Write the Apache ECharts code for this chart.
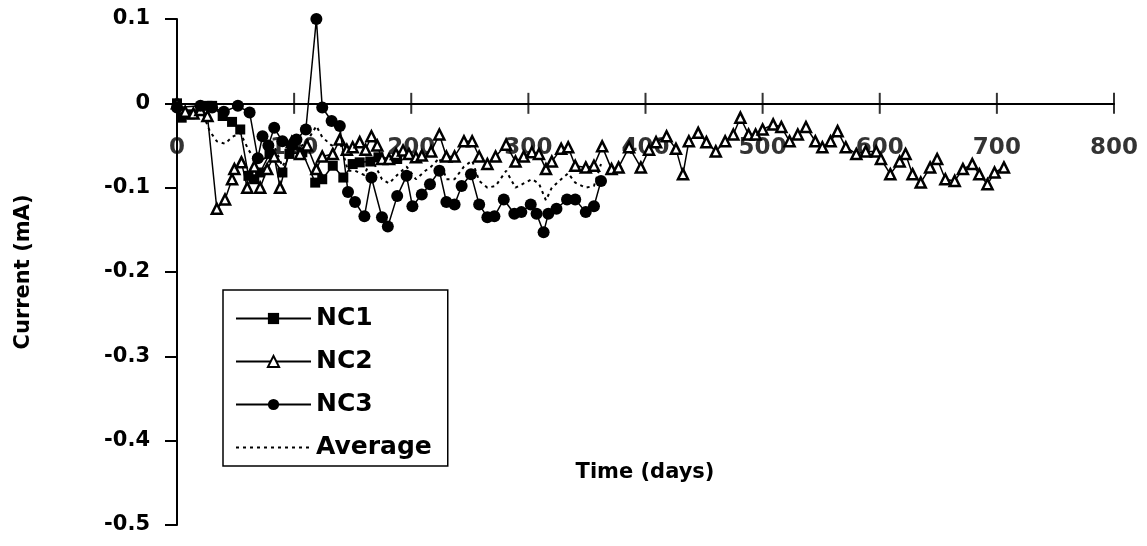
<!DOCTYPE html>
<html><head><meta charset="utf-8">
<script src="https://cdn.jsdelivr.net/npm/echarts@6/dist/echarts.min.js"></script>
<style>html,body{margin:0;padding:0;background:#fff}#c{width:1147px;height:546px}</style>
</head><body><div id="c"></div>
<script>
const xTicks = [0,100,200,300,400,500,600,700,800];
const yTicks = [0.1,0,-0.1,-0.2,-0.3,-0.4,-0.5];

const nc1Days = [0,4,11,26,30,39,47,54,61,66,71,79,90,96,107,118,124,133,142,150,156,165,172,188];
const nc1Vals = [0,-0.017,-0.013,-0.003,-0.003,-0.015,-0.022,-0.031,-0.086,-0.09,-0.082,-0.06,-0.082,-0.06,-0.058,-0.094,-0.09,-0.074,-0.088,-0.072,-0.07,-0.069,-0.064,-0.066];

const nc2Days = [0,7,14,20,26,34,41,47,49,55,60,66,71,77,83,88,98,105,111,119,124,133,139,145,150,156,161,166,171,175,181,187,193,198,204,209,217,224,230,237,245,252,258,265,272,281,289,296,303,309,315,320,328,334,340,349,356,363,371,377,386,396,403,409,418,426,432,437,445,452,460,468,475,481,488,494,500,509,516,523,530,537,545,551,558,564,571,580,588,597,601,609,617,622,628,635,643,649,656,664,671,679,685,692,698,706];
const nc2Vals = [0,-0.01,-0.012,-0.008,-0.015,-0.125,-0.114,-0.09,-0.078,-0.07,-0.1,-0.075,-0.1,-0.078,-0.063,-0.1,-0.046,-0.06,-0.05,-0.078,-0.063,-0.06,-0.043,-0.055,-0.052,-0.046,-0.055,-0.039,-0.05,-0.066,-0.066,-0.06,-0.056,-0.06,-0.064,-0.062,-0.057,-0.037,-0.063,-0.063,-0.045,-0.045,-0.063,-0.072,-0.063,-0.049,-0.069,-0.063,-0.058,-0.06,-0.078,-0.069,-0.054,-0.052,-0.074,-0.076,-0.074,-0.051,-0.078,-0.076,-0.052,-0.076,-0.055,-0.046,-0.039,-0.054,-0.084,-0.045,-0.035,-0.046,-0.057,-0.045,-0.037,-0.017,-0.037,-0.037,-0.031,-0.025,-0.028,-0.045,-0.037,-0.028,-0.045,-0.052,-0.045,-0.033,-0.052,-0.06,-0.057,-0.057,-0.066,-0.084,-0.069,-0.06,-0.084,-0.094,-0.076,-0.066,-0.09,-0.092,-0.078,-0.072,-0.084,-0.096,-0.082,-0.076];

const nc3Days = [0,20,30,40,52,62,69,73,78,83,90,98,102,110,119,124,132,139,146,152,160,166,175,180,188,196,201,209,216,224,230,237,243,251,258,265,271,279,288,294,302,307,313,317,324,333,340,349,356,362];
const nc3Vals = [-0.005,-0.003,-0.005,-0.01,-0.003,-0.011,-0.065,-0.039,-0.05,-0.029,-0.045,-0.05,-0.043,-0.031,0.1,-0.005,-0.021,-0.027,-0.105,-0.117,-0.134,-0.088,-0.135,-0.146,-0.11,-0.086,-0.122,-0.108,-0.096,-0.08,-0.117,-0.12,-0.098,-0.084,-0.12,-0.135,-0.134,-0.114,-0.131,-0.129,-0.12,-0.131,-0.153,-0.131,-0.125,-0.114,-0.114,-0.129,-0.122,-0.092];

const avgDays = [0,7,14,20,28,34,41,47,54,61,68,75,83,90,98,105,111,119,124,132,139,146,152,160,166,175,181,188,196,204,212,217,224,230,237,245,252,258,265,272,281,289,296,303,309,315,320,328,334,340,349,356,362];
const avgVals = [0,-0.008,-0.01,-0.005,-0.033,-0.045,-0.048,-0.04,-0.035,-0.055,-0.07,-0.065,-0.05,-0.075,-0.055,-0.052,-0.045,-0.027,-0.04,-0.05,-0.045,-0.08,-0.08,-0.085,-0.065,-0.09,-0.095,-0.085,-0.075,-0.09,-0.08,-0.075,-0.065,-0.09,-0.09,-0.075,-0.068,-0.092,-0.1,-0.098,-0.08,-0.1,-0.095,-0.09,-0.095,-0.115,-0.1,-0.09,-0.083,-0.094,-0.1,-0.098,-0.072];

const pair = (d, v) => d.map((x, i) => [x, v[i]]);
const FONT = 'DejaVu Sans';
const chart = echarts.init(document.getElementById('c'), null, {renderer: 'canvas'});
const lineS = {color: '#000', width: 1.5};
chart.setOption({
  animation: false,
  backgroundColor: '#fff',
  grid: {left: 177, right: 33, top: 19, bottom: 21, containLabel: false, outerBoundsMode: 'none'},
  xAxis: {
    type: 'value', min: 0, max: 800, interval: 100,
    axisLine: {onZero: true, lineStyle: {color: '#000', width: 2}},
    splitLine: {show: false},
    axisTick: {show: false},
    axisLabel: {show: false}
  },
  yAxis: {
    type: 'value', min: -0.5, max: 0.1, interval: 0.1,
    axisLine: {show: true, onZero: false, lineStyle: {color: '#000', width: 2}},
    axisTick: {show: true, length: 12, lineStyle: {color: '#000', width: 2}},
    splitLine: {show: false},
    axisLabel: {margin: 27, color: '#000', fontFamily: FONT, fontWeight: 'bold', fontSize: 21,
      formatter: v => { const r = Math.round(v * 10) / 10; return yTicks.includes(r) ? String(r) : ''; }}
  },
  legend: {
    orient: 'vertical', left: 223, top: 290,
    padding: [16, 16, 6, 12],
    itemWidth: 75, itemHeight: 14, itemGap: 18,
    borderColor: '#000', borderWidth: 1.5, backgroundColor: '#fff',
    textStyle: {color: '#000', fontFamily: FONT, fontWeight: 'bold', fontSize: 25, lineHeight: 24},
    data: ['NC1', 'NC2', 'NC3', {name: 'Average', itemStyle: {opacity: 0}}]
  },
  graphic: [
    {type: 'text', x: 24, y: 272, rotation: Math.PI / 2,
      style: {text: 'Current (mA)', align: 'center', verticalAlign: 'middle', fill: '#000',
        font: 'bold 21px "DejaVu Sans"'}},
    {type: 'text', x: 645, y: 473,
      style: {text: 'Time (days)', align: 'center', verticalAlign: 'middle', fill: '#000',
        font: 'bold 21px "DejaVu Sans"'}}
  ],
  series: [
    {name: 'xAxisTicks', type: 'scatter', silent: true, z: 1,
      data: xTicks.map(t => [t, 0]),
      symbol: 'rect', symbolSize: [2, 21], itemStyle: {color: '#000'},
      label: {show: true, position: 'bottom', distance: 23, color: '#000',
        fontFamily: FONT, fontWeight: 'bold', fontSize: 23, formatter: p => String(p.value[0])}},
    {name: 'NC1', type: 'line', data: pair(nc1Days, nc1Vals), symbol: 'rect', symbolSize: 10,
      lineStyle: lineS, itemStyle: {color: '#000'}, z: 3},
    {name: 'NC2', type: 'line', data: pair(nc2Days, nc2Vals), symbol: 'triangle', symbolSize: 10,
      showAllSymbol: true,
      lineStyle: lineS, itemStyle: {color: '#fff', borderColor: '#000', borderWidth: 2.5}, z: 4},
    {name: 'NC3', type: 'line', data: pair(nc3Days, nc3Vals), symbol: 'circle', symbolSize: 12,
      lineStyle: lineS, itemStyle: {color: '#000'}, z: 5},
    {name: 'Average', type: 'line', data: pair(avgDays, avgVals), symbol: 'none',
      lineStyle: {color: '#000', width: 2, type: [3, 4]}, itemStyle: {color: '#000'}, z: 2}
  ]
});
</script></body></html>
